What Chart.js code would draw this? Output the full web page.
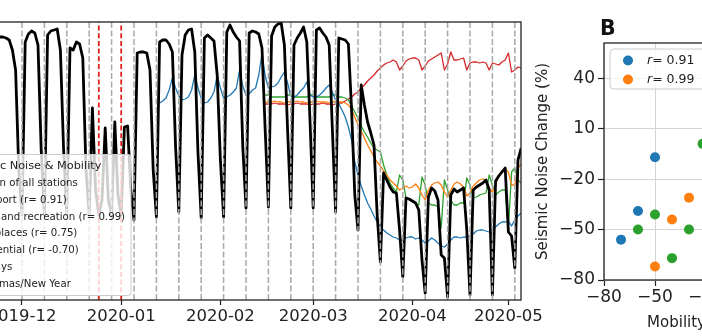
<!DOCTYPE html>
<html>
<head>
<meta charset="utf-8">
<script src="https://cdn.jsdelivr.net/npm/chart.js@4.4.1/dist/chart.umd.min.js"></script>
<style>
  html, body { margin: 0; padding: 0; background: #fff; overflow: hidden; }
  body { width: 702px; height: 336px; position: relative; }
  #wrapA { position: absolute; left: -40px; top: 0; }
  #wrapB { position: absolute; left: 530px; top: 0; }
</style>
</head>
<body>
<div id="wrapA"><canvas id="noiseChart" width="600" height="336"></canvas></div>
<div id="wrapB"><canvas id="scatterChart" width="330" height="336"></canvas></div>
<script>
// ---- panel A: daily seismic noise (arbitrary units) and mobility curves ----
const medianStart = '2019-11-24';
const medianNoise = [
  263, 263, 262, 260, 250, 230, 130,
  85, 258, 266, 269, 267, 255, 150,
  85, 265, 269, 270, 271, 250, 150,
  85, 252, 250, 258, 256, 242, 130,
  85, 192, 110, 85, 100, 172, 100,
  85, 178, 105, 85, 173, 174, 110,
  80, 247, 248, 248, 247, 230, 130,
  83, 258, 260, 260, 256, 248, 153,
  88, 245, 265, 270, 271, 248, 147,
  82, 262, 265, 262, 259, 225, 140,
  83, 268, 275, 268, 263, 259, 153,
  92, 267, 269, 268, 266, 252, 170,
  93, 264, 273, 276, 277, 255, 170,
  92, 255, 262, 267, 273, 258, 180,
  92, 270, 272, 267, 263, 255, 170,
  88, 262, 261, 260, 256, 190, 105,
  70, 215, 195, 178, 167, 155, 85,
  38, 127, 120, 113, 108, 107, 70,
  23, 102, 101, 99, 97, 90, 40,
  7, 103, 112, 109, 100, 45, 42,
  3, 105, 111, 108, 110, 112, 70,
  5, 110, 113, 115, 117, 120, 110,
  5, 119, 124, 128, 132, 68, 64,
  32, 140, 152
];

const transportStart = '2020-01-13';
const transport = [
  197, 199, 202, 210, 222, 212, 204,
  200, 201, 203, 210, 225, 212, 202,
  197, 198, 202, 208, 225, 212, 202,
  203, 205, 208, 212, 230, 214, 205,
  206, 210, 212, 225, 247, 224, 212,
  213, 214, 217, 223, 228, 217, 204,
  203, 205, 209, 212, 218, 205, 203,
  203, 205, 208, 212, 215, 208, 200,
  196, 190, 183, 173, 160, 138, 125,
  114, 105, 97, 91, 84, 78, 73,
  70, 67, 65, 63, 62, 60, 60,
  62, 63, 63, 61, 62, 60, 57,
  59, 62, 60, 57, 54, 53, 56,
  60, 63, 63, 62, 63, 63, 64,
  66, 69, 70, 70, 69, 68, 71,
  73, 76, 78, 78, 79, 74, 80,
  84, 87
];

const mobilityStart = '2020-02-15';
const retail = [
  198, 198, 198, 199, 198, 198, 197,
  198, 198, 198, 199, 198, 198, 197,
  198, 198, 199, 198, 198, 198, 197,
  198, 198, 198, 198, 197, 195, 190,
  183, 175, 169, 162, 155, 149, 143,
  138, 134, 129, 125, 120, 117, 114,
  110, 112, 114, 112, 113, 116, 112,
  105, 100, 110, 115, 117, 118, 115,
  108, 103, 110, 116, 118, 116, 113,
  104, 107, 114, 117, 120, 121, 120,
  112, 108, 115, 125, 129, 131, 128,
  115, 115, 132, 136
];
const workplaces = [
  205, 205, 203, 203, 203, 203, 203,
  205, 205, 203, 203, 203, 203, 203,
  205, 205, 203, 203, 203, 203, 203,
  205, 205, 203, 203, 202, 200, 194,
  188, 182, 174, 168, 163, 157, 152,
  150, 148, 135, 125, 117, 112, 108,
  125, 120, 102, 100, 98, 97, 95,
  123, 115, 97, 95, 95, 93, 72,
  120, 110, 100, 95, 95, 97, 97,
  122, 115, 102, 103, 105, 106, 107,
  125, 115, 105, 108, 110, 110, 72,
  128, 132, 120, 117
];
const residential = [
  196, 196, 196, 197, 196, 196, 196,
  195, 196, 196, 197, 196, 196, 196,
  195, 196, 196, 196, 197, 196, 196,
  195, 196, 197, 197, 199, 201, 203,
  206, 208, 212, 215, 219, 222, 225,
  229, 232, 235, 237, 238, 240, 238,
  230, 234, 239, 241, 242, 242, 240,
  230, 234, 239, 241, 243, 245, 247,
  230, 236, 248, 240, 240, 241, 242,
  230, 237, 238, 238, 237, 238, 237,
  230, 237, 236, 235, 238, 240, 247,
  228, 230, 233, 232
];

const monthTicks = ['2019-12-01', '2020-01-01', '2020-02-01', '2020-03-01', '2020-04-01', '2020-05-01'];
const holidayDates = ['2019-12-25', '2020-01-01'];
const firstSunday = '2019-12-01';
const lastSunday = '2020-05-03';

// ---- panel B: mobility change vs seismic noise change (%) ----
const transportPts = [[-50, -7], [-60, -39], [-70, -56]];
const retailPts = [[-50, -72], [-40, -44], [-30, -31]];
const workplacePts = [[-60, -50], [-50, -41], [-40, -67], [-30, -50], [-22, 1]];
const mobilityTicks = [-80, -50, -20, 10, 40];
const noiseChangeTicks = [-80, -50, -20, 10, 40];

const FONT = "'DejaVu Sans', sans-serif";
Chart.defaults.font.family = FONT;
const NOISE_MIN = 0, NOISE_MAX = 278;
const SHIFT = 40; // canvas A sits 40px left of the page

function dayOf(s) {
  const [y, m, d] = s.split('-').map(Number);
  return (Date.UTC(y, m - 1, d) - Date.UTC(2019, 11, 1)) / 86400000;
}
function series(start, values) {
  const d0 = dayOf(start);
  return values.map((v, i) => ({ x: d0 + i, y: v }));
}
function vlines(days) {
  const pts = [];
  days.forEach(d => pts.push({ x: d, y: NOISE_MIN }, { x: d, y: NOISE_MAX }, { x: d, y: null }));
  return pts;
}
const sundays = [];
for (let d = dayOf(firstSunday); d <= dayOf(lastSunday); d += 7) sundays.push(d);

const minus = v => (v < 0 ? '\u2212' + Math.abs(v) : String(v));

const framePlugin = {
  id: 'frame',
  afterDatasetsDraw(chart) {
    const { ctx, chartArea: a } = chart;
    ctx.save();
    ctx.strokeStyle = '#222';
    ctx.lineWidth = 1.3;
    ctx.strokeRect(a.left, a.top, a.right - a.left, a.bottom - a.top);
    ctx.restore();
  }
};

function roundBox(ctx, x, y, w, h, r) {
  ctx.beginPath();
  ctx.moveTo(x + r, y);
  ctx.arcTo(x + w, y, x + w, y + h, r);
  ctx.arcTo(x + w, y + h, x, y + h, r);
  ctx.arcTo(x, y + h, x, y, r);
  ctx.arcTo(x, y, x + w, y, r);
  ctx.closePath();
}

const legendA = {
  id: 'legendA',
  afterDraw(chart) {
    const { ctx, chartArea: a } = chart;
    const ox = a.left + SHIFT;
    const x0 = ox - 67, x1 = ox + 131, y0 = 154.5, y1 = 295.5;
    ctx.save();
    roundBox(ctx, x0, y0, x1 - x0, y1 - y0, 3);
    ctx.fillStyle = 'rgba(255,255,255,0.8)';
    ctx.fill();
    ctx.strokeStyle = '#cccccc';
    ctx.lineWidth = 1;
    ctx.stroke();
    ctx.fillStyle = '#222';
    ctx.textBaseline = 'middle';
    ctx.textAlign = 'center';
    ctx.font = '11.3px ' + FONT;
    ctx.fillText('Seismic Noise & Mobility', (x0 + x1) / 2, 166);
    ctx.textAlign = 'left';
    ctx.font = '10.2px ' + FONT;
    const order = [2, 3, 4, 5, 6, 0, 1];
    order.forEach((idx, i) => {
      const ds = chart.data.datasets[idx];
      const y = 183.3 + i * 16.8;
      ctx.save();
      ctx.strokeStyle = ds.borderColor;
      ctx.lineWidth = ds.borderWidth;
      ctx.setLineDash(ds.borderDash || []);
      ctx.beginPath();
      ctx.moveTo(ox - 60, y);
      ctx.lineTo(ox - 39, y);
      ctx.stroke();
      ctx.restore();
      ctx.fillText(ds.label, ox - 31, y);
    });
    ctx.restore();
  }
};

new Chart(document.getElementById('noiseChart'), {
  type: 'line',
  data: {
    datasets: [
      { label: 'Sundays', data: vlines(sundays), borderColor: '#a8a8a8', borderWidth: 1.5, borderDash: [6, 2.5], order: 0 },
      { label: 'Christmas/New Year', data: vlines(holidayDates.map(dayOf)), borderColor: '#e0201c', borderWidth: 1.8, borderDash: [5, 2.7], order: 0 },
      { label: 'Median of all stations', data: series(medianStart, medianNoise), borderColor: '#000000', borderWidth: 2.8, order: 1 },
      { label: 'Transport (r= 0.91)', data: series(transportStart, transport), borderColor: '#1f77b4', borderWidth: 1.3, order: 2 },
      { label: 'Retail and recreation (r= 0.99)', data: series(mobilityStart, retail), borderColor: '#ff7f0e', borderWidth: 1.3, order: 2 },
      { label: 'Workplaces (r= 0.75)', data: series(mobilityStart, workplaces), borderColor: '#2ca02c', borderWidth: 1.3, order: 2 },
      { label: 'Residential (r= -0.70)', data: series(mobilityStart, residential), borderColor: '#d62728', borderWidth: 1.3, order: 2 }
    ]
  },
  options: {
    responsive: false,
    animation: false,
    layout: { padding: { left: 0, right: 39, top: 22, bottom: 0 } },
    elements: { point: { radius: 0 }, line: { tension: 0, borderJoinStyle: 'round' } },
    plugins: { legend: { display: false }, tooltip: { enabled: false } },
    scales: {
      x: {
        type: 'linear',
        min: -19.375,
        max: 155.94,
        afterBuildTicks: s => { s.ticks = monthTicks.map(m => ({ value: dayOf(m) })); },
        afterFit: s => { s.height = 36; s.paddingLeft = 0; s.paddingRight = 0; },
        ticks: {
          callback: (v, i) => monthTicks[i].slice(0, 7),
          font: { size: 16.5 }, color: '#222', padding: 2, maxRotation: 0, autoSkip: false
        },
        grid: { drawOnChartArea: false, drawTicks: true, tickLength: 5, tickColor: '#222', tickWidth: 1.2 },
        border: { display: false }
      },
      y: { display: false, min: NOISE_MIN, max: NOISE_MAX }
    }
  },
  plugins: [framePlugin, legendA]
});

const legendB = {
  id: 'legendB',
  afterDraw(chart) {
    const { ctx, chartArea: a } = chart;
    ctx.save();
    // panel letter
    ctx.font = 'bold 20.5px ' + FONT;
    ctx.fillStyle = '#111';
    ctx.textBaseline = 'alphabetic';
    ctx.fillText('B', a.left - 4, 35);
    roundBox(ctx, a.left + 6, a.top + 6, 200, 40, 4);
    ctx.fillStyle = 'rgba(255,255,255,0.8)';
    ctx.fill();
    ctx.strokeStyle = '#cccccc';
    ctx.lineWidth = 1;
    ctx.stroke();
    ctx.textBaseline = 'middle';
    chart.data.datasets.forEach((ds, i) => {
      const col = Math.floor(i / 2), row = i % 2;
      const cx = a.left + 24 + col * 100, cy = a.top + 17.5 + row * 19;
      ctx.fillStyle = ds.backgroundColor;
      ctx.beginPath();
      ctx.arc(cx, cy, 5, 0, Math.PI * 2);
      ctx.fill();
      ctx.fillStyle = '#222';
      ctx.font = 'italic 12.5px ' + FONT;
      ctx.fillText('r', cx + 19, cy);
      const w = ctx.measureText('r').width;
      ctx.font = '12.5px ' + FONT;
      ctx.fillText('= ' + ds.rValue, cx + 19 + w, cy);
    });
    ctx.restore();
  }
};

const toPts = arr => arr.map(([x, y]) => ({ x, y }));

new Chart(document.getElementById('scatterChart'), {
  type: 'scatter',
  data: {
    datasets: [
      { label: 'Transport', rValue: '0.91', data: toPts(transportPts), backgroundColor: '#1f77b4' },
      { label: 'Retail and recreation', rValue: '0.99', data: toPts(retailPts), backgroundColor: '#ff7f0e' },
      { label: 'Workplaces', rValue: '0.75', data: toPts(workplacePts), backgroundColor: '#2ca02c' }
    ]
  },
  options: {
    responsive: false,
    animation: false,
    layout: { padding: { left: 0, right: 18, top: 43, bottom: 0 } },
    elements: { point: { radius: 5, borderWidth: 0 } },
    plugins: { legend: { display: false }, tooltip: { enabled: false } },
    scales: {
      x: {
        type: 'linear', min: -80, max: 60,
        afterBuildTicks: s => { s.ticks = mobilityTicks.map(v => ({ value: v })); },
        afterFit: s => { s.height = 56; s.paddingLeft = 0; s.paddingRight = 0; },
        ticks: { callback: minus, font: { size: 17 }, color: '#222', padding: 1, maxRotation: 0 },
        grid: { color: '#d4d4d4', lineWidth: 1, tickColor: '#222', tickLength: 6, tickWidth: 1.2 },
        border: { display: false },
        title: { display: true, text: 'Mobility Change (%)', font: { size: 15 }, color: '#222', padding: { top: 4, bottom: 4 } }
      },
      y: {
        type: 'linear', min: -80, max: 61,
        afterBuildTicks: s => { s.ticks = noiseChangeTicks.map(v => ({ value: v })); },
        afterFit: s => { s.width = 74; s.paddingTop = 0; s.paddingBottom = 0; },
        ticks: { callback: minus, font: { size: 17 }, color: '#222', padding: 3 },
        grid: { color: '#d4d4d4', lineWidth: 1, tickColor: '#222', tickLength: 6, tickWidth: 1.2 },
        border: { display: false },
        title: { display: true, text: 'Seismic Noise Change (%)', font: { size: 15 }, color: '#222', padding: { top: 4, bottom: 4 } }
      }
    }
  },
  plugins: [framePlugin, legendB]
});
</script>
</body>
</html>
